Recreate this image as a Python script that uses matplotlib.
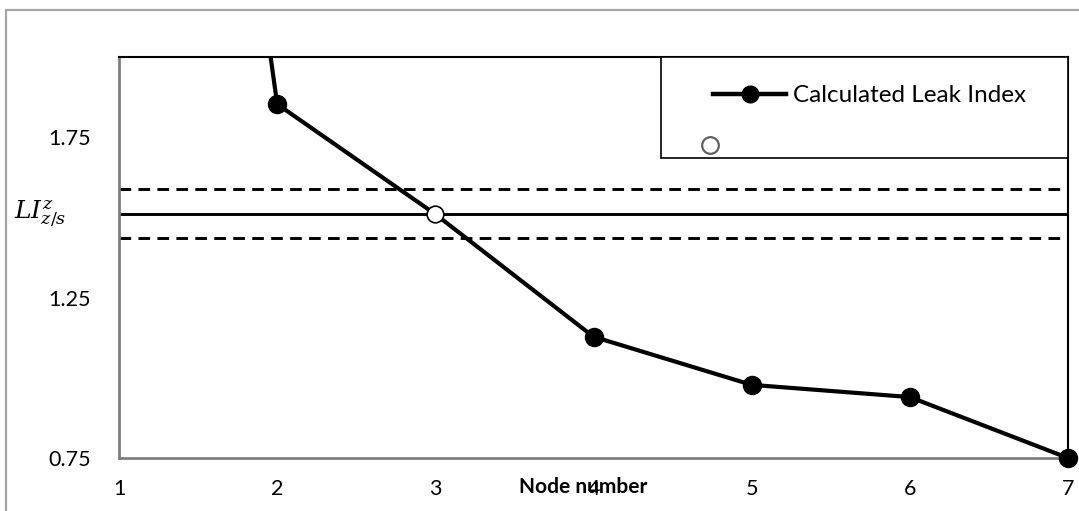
import numpy as np
import matplotlib.pyplot as plt
from matplotlib.lines import Line2D
from matplotlib.patches import Rectangle
from matplotlib.legend_handler import HandlerLine2D

# data
nodes = [1, 2, 3, 4, 5, 6, 7]
leak_index = [5.4, 1.853, 1.51, 1.128, 0.978, 0.94, 0.75]
leak_node = 3
leak_value = 1.51
mean_li = 1.51
upper_li = 1.59
lower_li = 1.435
yticks = [0.75, 1.25, 1.75]

plt.rcParams['font.family'] = ['Lato', 'DejaVu Sans']


class LeftMarker(HandlerLine2D):
    # marker-only legend entry sits at the left end of the handle
    def get_xdata(self, legend, xdescent, ydescent, width, height, fontsize):
        m = -xdescent - 0.04 * width
        xd = np.array([m - 1, m + 1])
        return xd, xd


fig = plt.figure(figsize=(10.79, 5.11), dpi=100)
ax = fig.add_axes([0.1103, 0.1037, 0.8795, 0.7848])

# outer chart frame
fig.patches.append(Rectangle((0.0056, -0.2), 1.2, 1.1804, transform=fig.transFigure,
                             fill=False, edgecolor='#a6a6a6', lw=1.6))

# threshold lines
ax.axhline(mean_li, color='black', lw=2.1)
ax.axhline(upper_li, color='black', lw=2.1, linestyle=(0, (4, 2.5)))
ax.axhline(lower_li, color='black', lw=2.1, linestyle=(0, (4, 2.5)))

# main series (line clipped, markers not)
ax.plot(nodes, leak_index, color='black', lw=3, zorder=3)
ax.plot(nodes, leak_index, linestyle='none', marker='o', color='black', ms=13,
        markevery=[1, 3, 4, 5, 6], clip_on=False, zorder=4)
# leak node marker
ax.plot([leak_node], [leak_value], linestyle='none', marker='o', ms=12,
        markerfacecolor='white', markeredgecolor='black', mew=1.2, zorder=5)

ax.set_xlim(1, 7)
ax.set_ylim(0.75, 2.0)
ax.set_xticks(nodes)
ax.set_yticks(yticks)
ax.set_yticklabels([f'{v:.2f}' for v in yticks])
ax.tick_params(length=0, labelsize=15.5)
ax.tick_params(axis='x', pad=15)
ax.tick_params(axis='y', pad=20)

for s in ['left', 'bottom']:
    ax.spines[s].set_color('#808080')
    ax.spines[s].set_linewidth(2)
for s in ['top', 'right']:
    ax.spines[s].set_color('black')
    ax.spines[s].set_linewidth(1.5)

ax.set_xlabel('Node number', fontsize=15, fontweight='bold')
ax.xaxis.set_label_coords(0.489, -0.072)
ax.xaxis.label.set_va('center')

fig.text(0.037, 0.58, r'$LI^{z}_{z/s}$', fontsize=18, family='DejaVu Serif',
         va='center', ha='center', math_fontfamily='dejavuserif')

# legend frame and entries
ax.add_patch(Rectangle((0.571, 0.748), 0.429, 0.252, transform=ax.transAxes,
                       facecolor='white', edgecolor='black', lw=1.2, zorder=6,
                       clip_on=False))
h1 = Line2D([], [], color='black', lw=3.2, marker='o', ms=12)
h2 = Line2D([], [], linestyle='none', marker='o', ms=12,
            markerfacecolor='white', markeredgecolor='#606060', mew=1.6)
leg = ax.legend([h1, h2], ['Calculated Leak Index', ''], loc='upper left',
                bbox_to_anchor=(0.626, 0.93), borderaxespad=0, borderpad=0,
                frameon=False, fontsize=17.5, handlelength=3.0, labelspacing=1.25,
                handletextpad=0.3, handler_map={h2: LeftMarker()})
leg.set_zorder(7)

fig.savefig('out.png', dpi=100)
